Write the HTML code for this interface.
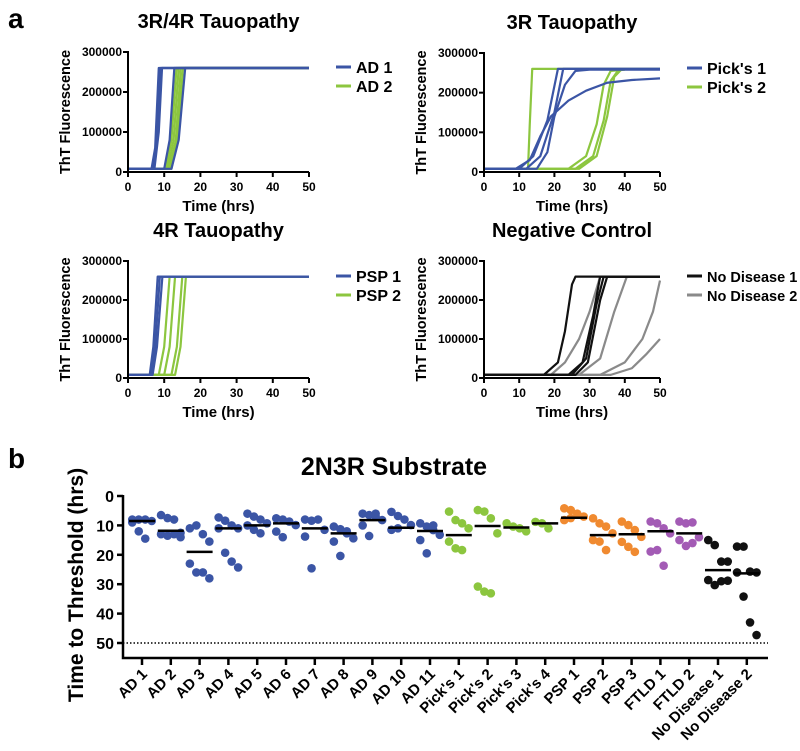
<!DOCTYPE html>
<html><head><meta charset="utf-8"><style>
body{margin:0;background:#fff}
svg{display:block;font-family:"Liberation Sans",sans-serif;font-weight:bold}
</style></head><body>
<svg id="fig" width="800" height="751" viewBox="0 0 800 751"></svg>
<script>
// ---------- Panel a data (time hrs, ThT fluorescence) ----------
const xTicks=[0,10,20,30,40,50];
const yTicks=[0,100000,200000,300000];
const ad1Curves=[
 [[0,8000],[6.5,8000],[7.5,60000],[8.5,260000],[50,260000]],
 [[0,8000],[7,8000],[8,80000],[9,260000],[50,260000]],
 [[0,8000],[7.3,8000],[8.5,100000],[9.4,260000],[50,260000]],
 [[0,8000],[10,8000],[11.5,80000],[12.8,260000],[50,260000]],
 [[0,8000],[12,8000],[14,80000],[15.8,260000],[50,260000]]];
const ad2Curves=[
 [[0,8000],[10.5,8000],[12,80000],[13.4,260000],[50,260000]],
 [[0,8000],[11,8000],[12.6,80000],[14,260000],[50,260000]],
 [[0,8000],[11.5,8000],[13.2,80000],[14.6,260000],[50,260000]],
 [[0,8000],[12,8000],[13.6,80000],[15.2,260000],[50,260000]]];
const pick1Curves=[
 [[0,8000],[10,8000],[14,40000],[18,130000],[21,260000],[50,260000]],
 [[0,8000],[12,8000],[16,40000],[20,150000],[22.5,260000],[50,260000]],
 [[0,8000],[15,8000],[18,50000],[20,140000],[23,220000],[26,255000],[30,258000],[50,258000]],
 [[0,8000],[9,8000],[13,30000],[16,90000],[19,140000],[24,180000],[29,205000],[35,225000],[42,232000],[50,236000]]];
const pick2Curves=[
 [[0,8000],[12.5,8000],[13,120000],[13.7,260000],[50,260000]],
 [[0,8000],[24,8000],[29,40000],[32,120000],[34,220000],[36,255000],[40,258000]],
 [[0,8000],[26,8000],[31,40000],[34,130000],[36,230000],[38,255000]],
 [[0,8000],[27,8000],[32,40000],[35,140000],[37,240000],[39,258000]]];
const psp1Curves=[
 [[0,8000],[6,8000],[7,80000],[8.2,260000],[50,260000]],
 [[0,8000],[6.3,8000],[7.5,80000],[8.8,260000],[50,260000]],
 [[0,8000],[6.8,8000],[8,80000],[9.5,260000],[50,260000]]];
const psp2Curves=[
 [[0,8000],[8.5,8000],[10,80000],[11.5,260000],[50,260000]],
 [[0,8000],[10,8000],[11.5,80000],[13,260000],[50,260000]],
 [[0,8000],[12,8000],[13.5,80000],[15,260000],[50,260000]],
 [[0,8000],[13,8000],[14.5,80000],[16,260000],[50,260000]]];
const nd1Curves=[
 [[0,8000],[17,8000],[21,40000],[23,120000],[25,240000],[26,260000],[50,260000]],
 [[0,8000],[24,8000],[28,40000],[31,160000],[33,260000],[50,260000]],
 [[0,8000],[25,8000],[29,50000],[32,190000],[34,260000],[50,260000]],
 [[0,8000],[26,8000],[29.5,40000],[33,200000],[35,260000],[50,260000]]];
const nd2Curves=[
 [[0,8000],[19,8000],[23,40000],[27,100000],[30,170000],[33,260000],[50,260000]],
 [[0,8000],[27,8000],[33,50000],[37,170000],[40.5,258000]],
 [[0,8000],[33,8000],[40,40000],[45,100000],[48,170000],[50,250000]],
 [[0,8000],[36,8000],[42,25000],[46,60000],[50,100000]]];

// ---------- Panel b data ----------
const categories=["AD 1","AD 2","AD 3","AD 4","AD 5","AD 6","AD 7","AD 8","AD 9","AD 10","AD 11","Pick's 1","Pick's 2","Pick's 3","Pick's 4","PSP 1","PSP 2","PSP 3","FTLD 1","FTLD 2","No Disease 1","No Disease 2"];
const catColors=["#3b55a5","#3b55a5","#3b55a5","#3b55a5","#3b55a5","#3b55a5","#3b55a5","#3b55a5","#3b55a5","#3b55a5","#3b55a5","#8cc63f","#8cc63f","#8cc63f","#8cc63f","#f08a30","#f08a30","#f08a30","#a35bb5","#a35bb5","#111","#111"];
const points=[
 [8,8,8,8.5,9,12,14.5],
 [6.5,7.5,8,12.5,13,13.5,13,14],
 [11,10,13,15.5,23,26,26,28],
 [7.3,8.4,10,11,11,19.3,22.3,24.3],
 [6,7,8,9.3,10,11.5,12.7],
 [7.6,8,8.7,9.9,12.1,14],
 [8,8.4,8,11.5,13.8,24.6],
 [10.4,11.3,12.7,14.4,15.5,20.4,12],
 [6,6.5,6,8.2,10,13.6,7],
 [5.4,6.8,8,9.9,11.5,11],
 [9.3,10.4,11.6,13.2,15,19.5,10],
 [5.3,8.2,9.3,11,15.5,17.8,18.4],
 [4.8,5.3,7.6,12.7,30.8,32.5,33.1],
 [9.3,10.4,11,12],
 [8.8,9.3,11],
 [4.2,4.8,6,7,8.2,7.5],
 [7.6,9.3,10.4,12.7,15,15.5,18.4],
 [8.7,9.9,11.6,13.9,15.6,17.3,19],
 [8.7,9.3,11,12.7,18.9,18.4,23.7],
 [8.7,9.3,9,14,15,17,16],
 [15,16.7,22.3,22.3,28.6,30.3,29,28.8],
 [17.2,17.2,25.7,26,26,34.2,43,47.3]];
const medians=[8.5,11.8,19,11,10,9.3,11,12.7,8.2,10.8,11.9,13.3,10.2,10.7,9.3,7.4,13.3,13,12,12.7,25.2,26.3];
const bTicks=[0,10,20,30,40,50];

const NS="http://www.w3.org/2000/svg";
const svg=document.getElementById('fig');
function mk(tag,attrs,parent){const e=document.createElementNS(NS,tag);for(const k in attrs)e.setAttribute(k,attrs[k]);(parent||svg).appendChild(e);return e;}
function txt(s,attrs,parent){const e=mk('text',attrs,parent);e.textContent=s;return e;}

function panel(name,title,x0,x1,y0,y1,curveSets,legends,lfs){
 const g=mk('g',{});
 
 
 const sx=t=>x0+(x1-x0)*t/50, sy=v=>y0-(y0-y1)*v/300000;
 const t=txt(title,{x:(x0+x1)/2,y:y1-24,'text-anchor':'middle','font-size':20},g);
 
 
 curveSets.forEach(cs=>{cs.data.forEach(c=>{
  const p=mk('polyline',{points:c.map(q=>sx(q[0])+','+sy(q[1])).join(' '),fill:'none',stroke:cs.color,'stroke-width':2.2,'stroke-linejoin':'round'},g);
  
  
 });});
 const ax=mk('path',{d:`M${x0},${y1-1}V${y0}H${x1}`,fill:'none',stroke:'#000','stroke-width':2},g);
 
 
 xTicks.forEach(v=>{mk('line',{x1:sx(v),x2:sx(v),y1:y0,y2:y0+5,stroke:'#000','stroke-width':2},g);
  txt(String(v),{x:sx(v),y:y0+19,'text-anchor':'middle','font-size':12},g);});
 yTicks.forEach(v=>{mk('line',{x1:x0-5,x2:x0,y1:sy(v),y2:sy(v),stroke:'#000','stroke-width':2},g);
  txt(String(v),{x:x0-6,y:sy(v)+4,'text-anchor':'end','font-size':12},g);});
 const xl=txt('Time (hrs)',{x:(x0+x1)/2,y:y0+39,'text-anchor':'middle','font-size':15},g);
 
 
 const yl=txt('ThT Fluorescence',{transform:`translate(${x0-58},${(y0+y1)/2}) rotate(-90)`,'text-anchor':'middle','font-size':14.5},g);
 
 
 legends.forEach((L,i)=>{const ly=y1+15+i*19;
  const lg=mk('g',{},g);
  
  
  mk('line',{x1:x1+27,x2:x1+42,y1:ly,y2:ly,stroke:L[1],'stroke-width':3},lg);
  txt(L[0],{x:x1+47,y:ly+6,'font-size':lfs||16},lg);});
}
const BLUE="#3b55a5",GREEN="#8cc63f";
txt('a',{x:8,y:28,'font-size':28});
txt('b',{x:8,y:468,'font-size':28});
panel('panel-3r4r','3R/4R Tauopathy',128,309,172,52,[{data:ad2Curves,color:GREEN},{data:ad1Curves,color:BLUE}],[["AD 1",BLUE],["AD 2",GREEN]]);
panel('panel-3r',"3R Tauopathy",484,660,172,53,[{data:pick2Curves,color:GREEN},{data:pick1Curves,color:BLUE}],[["Pick's 1",BLUE],["Pick's 2",GREEN]]);
panel('panel-4r','4R Tauopathy',128,309,378,261,[{data:psp2Curves,color:GREEN},{data:psp1Curves,color:BLUE}],[["PSP 1",BLUE],["PSP 2",GREEN]]);
panel('panel-neg','Negative Control',484,660,378,261,[{data:nd2Curves,color:"#8a8a8a"},{data:nd1Curves,color:"#111"}],[["No Disease 1","#111"],["No Disease 2","#8a8a8a"]],14.5);

// ---------- Panel b ----------
(function(){
 const g=mk('g',{});
 
 
 const X0=123,Yaxis=658,cx0=142,step=28.8;
 const sy=v=>496+v*2.94, sx=i=>cx0+i*step;
 txt('2N3R Substrate',{x:394,y:475,'text-anchor':'middle','font-size':25},g);
 mk('line',{x1:X0,x2:768,y1:sy(50),y2:sy(50),stroke:'#000','stroke-width':1.5,'stroke-dasharray':'1.5,2'},g);
 mk('path',{d:`M${X0},${sy(0)-1}V${Yaxis}H768`,fill:'none',stroke:'#000','stroke-width':2.5},g);
 bTicks.forEach(v=>{mk('line',{x1:X0-6,x2:X0,y1:sy(v),y2:sy(v),stroke:'#000','stroke-width':2.5},g);
  txt(String(v),{x:X0-9,y:sy(v)+6,'text-anchor':'end','font-size':16},g);});
 const yl=txt('Time to Threshold (hrs)',{transform:`translate(83,${(sy(0)+Yaxis)/2+8}) rotate(-90)`,'text-anchor':'middle','font-size':21},g);
 
 
 categories.forEach((c,i)=>{
  const x=sx(i);
  mk('line',{x1:x,x2:x,y1:Yaxis,y2:Yaxis+7,stroke:'#000','stroke-width':2.5},g);
  const lb=txt(c,{transform:`translate(${x+6},${Yaxis+17}) rotate(-45)`,'text-anchor':'end','font-size':15},g);
  
  
  points[i].forEach((v,j)=>{
   const off=((j%4)-1.5)*6.5;
   const d=mk('circle',{cx:x+off,cy:sy(v),r:4.3,fill:catColors[i]},g);
   
   
  });
  const m=mk('line',{x1:x-13,x2:x+13,y1:sy(medians[i]),y2:sy(medians[i]),stroke:'#000','stroke-width':2.5},g);
  
  
 });
})();
</script>
</body></html>
